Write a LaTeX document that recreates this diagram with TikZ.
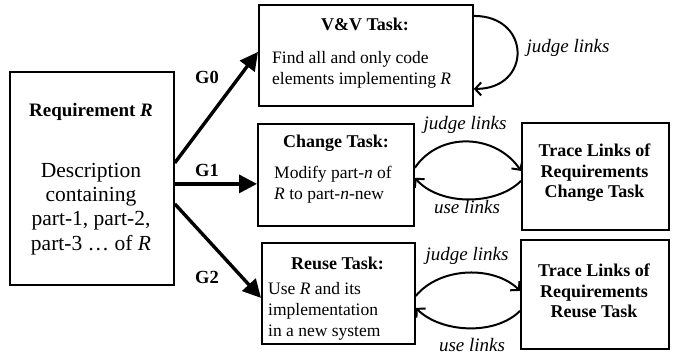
\documentclass[tikz,border=0pt]{standalone}
\usepackage{fontspec}
\setmainfont{Liberation Serif}
\usetikzlibrary{arrows.meta}
\begin{document}
\begin{tikzpicture}[x=1pt,y=-1pt,
  box/.style={draw, line width=1.8pt, inner sep=0pt, anchor=north west},
  ttl/.style={font=\fontsize{18}{20.5}\selectfont\bfseries, align=center, inner sep=0pt},
  body/.style={font=\fontsize{17.5}{21}\selectfont, align=left, inner sep=0pt, anchor=west},
  main/.style={line width=3.4pt, -{Triangle[length=18pt,width=18pt]}},
  link/.style={line width=2pt, -{Straight Barb[length=6pt,width=13pt]}},
  lbl/.style={font=\fontsize{19}{22}\selectfont\itshape, inner sep=0pt},
  glbl/.style={font=\fontsize{18.5}{22}\selectfont\bfseries, inner sep=0pt}]
\useasboundingbox (0,0) rectangle (673,362);

% boxes
\node[box, minimum width=164pt, minimum height=213pt] (req) at (9,71) {};
\node[box, minimum width=214pt, minimum height=101pt] (vv) at (258,4) {};
\node[box, minimum width=156pt, minimum height=102pt] (chg) at (257,123) {};
\node[box, minimum width=147pt, minimum height=107pt] (trc) at (521,122) {};
\node[box, minimum width=153pt, minimum height=101pt] (reu) at (261,242) {};
\node[box, minimum width=148pt, minimum height=109pt] (trr) at (520,239) {};

% texts
\node[font=\fontsize{19}{22}\selectfont\bfseries, inner sep=0pt] (reqt) at (91,112) {Requirement \textit{R}};
\node[font=\fontsize{21.5}{24.3}\selectfont, align=center, inner sep=0pt] (reqb) at (91,209) {Description\\containing\\part-1, part-2,\\part-3 … of \textit{R}};

\node[ttl] (vvt) at (365,24) {V\&V Task:};
\node[body] (vvb) at (272,70) {Find all and only code\\elements implementing \textit{R}};

\node[ttl] (chgt) at (336,143) {Change Task:};
\node[body] (chgb) at (274,185) {Modify part-\textit{n} of\\\textit{R} to part-\textit{n}-new};

\node[ttl] (trct) at (594.5,173) {Trace Links of\\Requirements\\Change Task};

\node[ttl] (reut) at (337.5,263) {Reuse Task:};
\node[body] (reub) at (268,311) {Use \textit{R} and its\\implementation\\in a new system};

\node[ttl] (trrt) at (594,291) {Trace Links of\\Requirements\\Reuse Task};

% main arrows
\draw[main] ([yshift=15.5pt]req.east) -- ([yshift=3.5pt]vv.west);
\draw[main] ([yshift=-5.5pt]req.east) -- ([yshift=-9pt]chg.west);
\draw[main] ([yshift=-25.5pt]req.east) -- ([yshift=-4.5pt]reu.west);
\node[glbl] (g0) at (207,77) {G0};
\node[glbl] (g1) at (207,170) {G1};
\node[glbl] (g2) at (207,277) {G2};

% self loop
\draw[link] ([yshift=39.5pt]vv.east) to[out=0,in=0,distance=58pt] ([yshift=-33.5pt]vv.east);
\node[lbl] (vvl) at (568,48) {judge links};

% change links
\draw[link] ([yshift=7pt]chg.east) .. controls +(25,-37) and +(-25,-37) .. ([yshift=5.5pt]trc.west);
\draw[link] ([yshift=-4.5pt]trc.west) .. controls +(-25,25) and +(25,28) .. ([yshift=-3pt]chg.east);
\node[lbl] (cj) at (465,125) {judge links};
\node[lbl] (cu) at (467,207) {use links};

% reuse links
\draw[link] ([yshift=-2.5pt]reu.east) .. controls +(25,-30) and +(-25,-25) .. ([yshift=3.5pt]trr.west);
\draw[link] ([yshift=-16.5pt]trr.west) .. controls +(-25,25) and +(25,25) .. ([yshift=-14.5pt]reu.east);
\node[lbl] (rj) at (467,256) {judge links};
\node[lbl] (ru) at (472,345) {use links};
\end{tikzpicture}
\end{document}
